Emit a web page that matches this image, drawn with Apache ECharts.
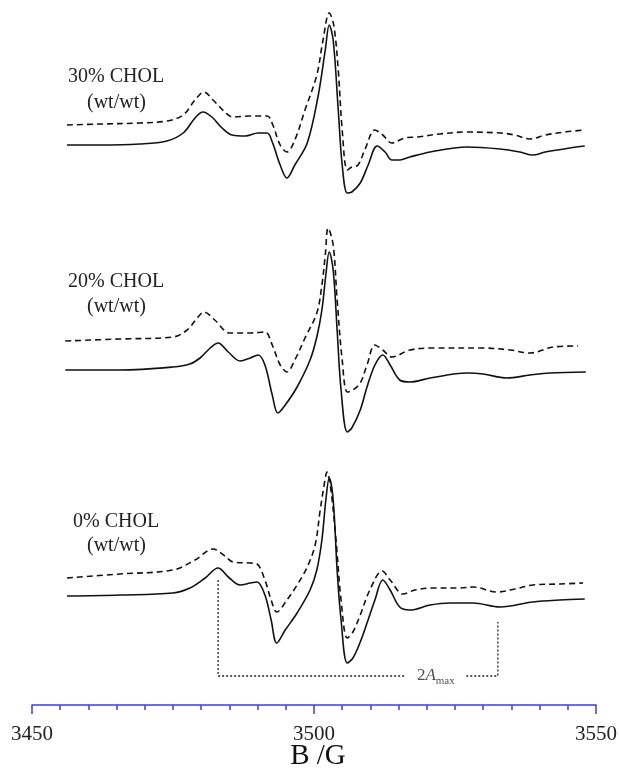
<!DOCTYPE html>
<html>
<head>
<meta charset="utf-8">
<script src="https://cdn.jsdelivr.net/npm/echarts@6/dist/echarts.min.js"></script>
<style>
html,body{margin:0;padding:0;background:#fff;}
#chart{width:619px;height:770px;}
</style>
</head>
<body>
<div id="chart"></div>
<script>
// Field axis ticks (G)
const fieldMin = 3450, fieldMax = 3550, fieldStep = 50;
// Sample labels
const sampleLabels = ['30% CHOL', '20% CHOL', '0% CHOL'];
// Vertical offsets of each trace (a.u.)
const offsets30 = { solid: 560, dashed: 580 };
const offsets20 = { solid: 335, dashed: 364 };
const offsets0 = { solid: 109, dashed: 127 };

// Spectra: [B (G), relative amplitude (a.u.)]
const chol30Solid = [[3456.2,0],[3462.1,0],[3469.1,1],[3473.9,4],[3476.8,12],[3478.9,27],[3480.3,33],[3481.9,28],[3483.7,17],[3485.5,10],[3487.8,9],[3490.1,12],[3491.7,12],[3492.6,3],[3494.0,-20],[3495.2,-33],[3496.6,-20],[3498.8,2],[3500.7,48],[3502.0,95],[3502.7,120],[3503.4,105],[3504.3,35],[3505.0,-20],[3505.9,-48],[3506.7,-47],[3508.2,-38],[3509.6,-20],[3511.2,-1],[3512.6,-7],[3513.8,-15],[3515.2,-15],[3517.0,-12],[3520.6,-7],[3527.1,-2],[3533.0,-4],[3536.5,-7],[3538.8,-10],[3541.0,-7],[3545.4,-3],[3548.0,-1]];
const chol30Dashed = [[3456.2,0],[3462.1,1],[3469.1,2],[3473.9,4],[3476.8,10],[3478.9,25],[3480.5,33],[3482.1,25],[3484.2,13],[3485.6,8],[3488.7,9],[3491.7,9],[3492.7,0],[3494.0,-20],[3495.2,-27],[3496.6,-15],[3498.4,15],[3500.5,50],[3501.6,85],[3502.7,112],[3503.5,100],[3504.3,55],[3505.0,-5],[3505.9,-45],[3506.7,-42],[3507.8,-40],[3509.0,-25],[3510.8,-5],[3512.2,-10],[3513.8,-18],[3516.1,-13],[3518.3,-12],[3522.3,-9],[3527.1,-7],[3533.0,-8],[3535.6,-10],[3538.3,-14],[3541.0,-10],[3544.5,-7],[3548.0,-5]];
const chol20Solid = [[3455.9,0],[3465.6,0],[3475.0,3],[3478.0,6],[3479.8,12],[3481.6,22],[3483.0,27],[3484.8,18],[3486.9,9],[3488.7,12],[3490.1,15],[3491.3,5],[3492.6,-25],[3493.6,-43],[3494.9,-35],[3497.0,-17],[3499.3,10],[3500.5,33],[3501.4,60],[3502.1,95],[3502.7,118],[3503.4,100],[3504.1,40],[3504.8,-20],[3505.9,-62],[3506.7,-58],[3508.2,-40],[3509.4,-17],[3510.8,5],[3512.2,15],[3513.5,5],[3515.2,-10],[3517.0,-12],[3520.6,-8],[3527.1,-3],[3530.0,-4],[3534.2,-8],[3538.3,-5],[3541.8,-3],[3548.2,-2]];
const chol20Dashed = [[3455.9,0],[3465.6,2],[3475.0,4],[3477.5,11],[3479.3,23],[3480.5,29],[3482.4,21],[3485.1,8],[3488.7,8],[3491.3,9],[3492.6,-4],[3494.0,-24],[3495.2,-31],[3496.6,-19],[3498.4,3],[3500.5,28],[3501.4,56],[3502.0,86],[3502.5,113],[3503.4,96],[3504.1,41],[3505.0,-19],[3505.9,-51],[3506.9,-49],[3508.2,-42],[3509.4,-24],[3510.8,-4],[3512.2,-9],[3513.8,-16],[3517.0,-9],[3521.1,-7],[3530.0,-7],[3534.8,-9],[3538.3,-12],[3542.4,-6],[3546.8,-5]];
const chol0Solid = [[3456.2,0],[3465.6,1],[3475.0,3],[3478.0,8],[3480.7,18],[3483.0,28],[3484.8,19],[3486.9,11],[3488.7,13],[3489.9,14],[3491.3,1],[3492.4,-24],[3493.4,-47],[3494.9,-34],[3497.0,-17],[3499.3,6],[3500.5,26],[3501.4,56],[3502.1,96],[3502.7,118],[3503.4,96],[3504.1,26],[3504.8,-24],[3505.9,-67],[3506.9,-62],[3508.2,-46],[3509.4,-27],[3510.8,-4],[3512.2,16],[3513.5,6],[3515.2,-11],[3517.0,-14],[3520.6,-9],[3524.1,-7],[3528.2,-7],[3533.0,-11],[3538.8,-6],[3543.6,-4],[3548.0,-3]];
const chol0Dashed = [[3456.2,0],[3465.6,4],[3475.0,8],[3478.9,18],[3482.1,29],[3484.2,22],[3485.6,16],[3488.7,15],[3489.9,14],[3491.3,-2],[3492.4,-22],[3493.4,-34],[3495.2,-22],[3497.0,-7],[3498.8,11],[3500.2,33],[3501.1,68],[3501.8,93],[3502.3,106],[3503.0,88],[3503.9,38],[3504.8,-22],[3505.9,-60],[3506.9,-54],[3508.2,-37],[3509.9,-12],[3512.1,7],[3513.5,-2],[3515.8,-16],[3517.9,-12],[3521.1,-10],[3525.9,-10],[3528.2,-9],[3532.4,-14],[3535.6,-11],[3538.8,-7],[3543.6,-6],[3547.7,-5]];

// 2A_max bracket: field positions (G) and heights (a.u.)
const aMaxLow = 3483.0, aMaxHigh = 3532.6;
const aMaxLeftTop = 125, aMaxRightTop = 83, aMaxBase = 29;
const aMaxGapStart = 3516.1, aMaxGapEnd = 3527.0, aMaxLabelAt = 3521.6;

function shift(arr, off) { return arr.map(p => [p[0], p[1] + off]); }

const serif = '"Liberation Serif", "DejaVu Serif", serif';
const solidStyle = { color: '#111', width: 1.6, type: 'solid' };
const dashStyle = { color: '#111', width: 1.6, type: [6, 4] };

function trace(data, style) {
  return { type: 'line', data: data, showSymbol: false, symbol: 'none', smooth: 0.35,
           lineStyle: style, silent: true, animation: false, z: 3 };
}

const series = [
  trace(shift(chol30Solid, offsets30.solid), solidStyle),
  trace(shift(chol30Dashed, offsets30.dashed), dashStyle),
  trace(shift(chol20Solid, offsets20.solid), solidStyle),
  trace(shift(chol20Dashed, offsets20.dashed), dashStyle),
  trace(shift(chol0Solid, offsets0.solid), solidStyle),
  trace(shift(chol0Dashed, offsets0.dashed), dashStyle),
  { type: 'line', data: [[aMaxLow, aMaxLeftTop], [aMaxLow, aMaxBase], [aMaxGapStart, aMaxBase]],
    showSymbol: false, symbol: 'none', lineStyle: { color: '#222', width: 1.3, type: [2, 2] }, silent: true, animation: false },
  { type: 'line', data: [[aMaxGapEnd, aMaxBase], [aMaxHigh, aMaxBase], [aMaxHigh, aMaxRightTop]],
    showSymbol: false, symbol: 'none', lineStyle: { color: '#222', width: 1.3, type: [2, 2] }, silent: true, animation: false },
  { type: 'scatter', data: [[aMaxLabelAt, aMaxBase]], symbolSize: 0, silent: true, animation: false,
    label: { show: true, position: 'inside', formatter: '{n|2}{a|A}{s|max}',
      rich: {
        n: { fontFamily: serif, fontSize: 17, color: '#222' },
        a: { fontFamily: serif, fontSize: 17, fontStyle: 'italic', color: '#222' },
        s: { fontFamily: serif, fontSize: 11, color: '#222', padding: [10, 0, 0, 0] }
      } } }
];

const chart = echarts.init(document.getElementById('chart'), null, { renderer: 'canvas' });
chart.setOption({
  backgroundColor: '#fff',
  animation: false,
  grid: { left: 32, right: 23, top: 0, bottom: 65, containLabel: false, outerBoundsMode: 'none' },
  xAxis: {
    type: 'value', min: fieldMin, max: fieldMax, interval: fieldStep,
    name: 'B /G', nameLocation: 'middle', nameGap: 37, nameMoveOverlap: false,
    nameTextStyle: { fontFamily: serif, fontSize: 29, color: '#111', padding: [0, 0, 0, 8] },
    axisLine: { show: true, lineStyle: { color: '#3c3ce6', width: 1.5 } },
    axisTick: { show: true, length: 9, lineStyle: { color: '#3c3ce6', width: 1.5 } },
    minorTick: { show: true, splitNumber: 10, length: 5, lineStyle: { color: '#3c3ce6', width: 1.5 } },
    axisLabel: { fontFamily: serif, fontSize: 21, color: '#222', margin: 19, formatter: v => String(v) },
    splitLine: { show: false }, minorSplitLine: { show: false }
  },
  yAxis: { type: 'value', min: 0, max: 705, show: false },
  graphic: [
    { type: 'text', left: 68, top: 67, style: { text: sampleLabels[0], font: '20px ' + serif, fill: '#222' } },
    { type: 'text', left: 87, top: 93, style: { text: '(wt/wt)', font: '20px ' + serif, fill: '#222' } },
    { type: 'text', left: 68, top: 272, style: { text: sampleLabels[1], font: '20px ' + serif, fill: '#222' } },
    { type: 'text', left: 87, top: 297, style: { text: '(wt/wt)', font: '20px ' + serif, fill: '#222' } },
    { type: 'text', left: 73, top: 512, style: { text: sampleLabels[2], font: '20px ' + serif, fill: '#222' } },
    { type: 'text', left: 87, top: 536, style: { text: '(wt/wt)', font: '20px ' + serif, fill: '#222' } }
  ],
  series: series
});
</script>
</body>
</html>
